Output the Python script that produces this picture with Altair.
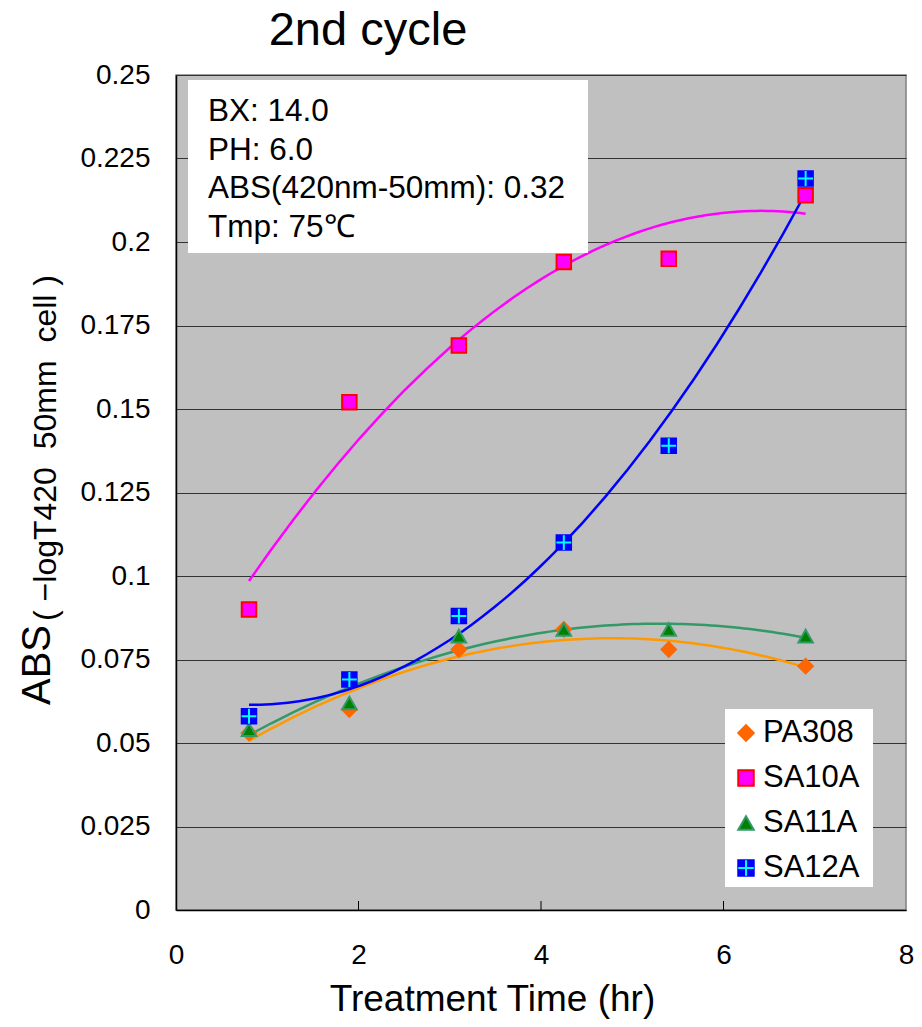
import altair as alt
import pandas as pd

# ---------------- data ----------------
SERIES = ["PA308", "SA10A", "SA11A", "SA12A"]
TIME = [0.8, 1.9, 3.1, 4.25, 5.4, 6.9]
PA308 = [0.053, 0.060, 0.078, 0.084, 0.078, 0.073]
SA10A = [0.090, 0.152, 0.169, 0.194, 0.195, 0.214]
SA11A = [0.054, 0.062, 0.082, 0.084, 0.084, 0.082]
SA12A = [0.058, 0.069, 0.088, 0.110, 0.139, 0.219]
X_TICKS = [0, 2, 4, 6, 8]
Y_TICKS = [0, 0.025, 0.05, 0.075, 0.1, 0.125, 0.15, 0.175, 0.2, 0.225, 0.25]
INFO_LINES = ["BX: 14.0", "PH: 6.0", "ABS(420nm-50mm): 0.32", "Tmp: 75℃"]
TITLE = "2nd cycle"
X_TITLE = "Treatment Time (hr)"
Y_TITLE_MAIN = "ABS"
Y_TITLE_SUB = "(\u00a0−logT420\u00a0\u00a050mm\u00a0\u00a0cell\u00a0)"

# ---------------- styles ----------------
FONT = "Liberation Sans"
FILL_COLORS = ["#ff6600", "#ff00ff", "#008000", "#0000ff"]
STROKE_COLORS = ["#ff6600", "#ff0000", "#339966", "#0000ff"]
LINE_COLORS = ["#ff9900", "#ff00ff", "#339966", "#0000ff"]
SHAPES = ["diamond", "square", "triangle-up", "square"]
CROSS = "M0,-1L0,1M-1,0L1,0"

W, H = 730, 835

values = {"PA308": PA308, "SA10A": SA10A, "SA11A": SA11A, "SA12A": SA12A}
rows = []
for s in SERIES:
    for t, v in zip(TIME, values[s]):
        rows.append({"series": s, "time": t, "abs": v})
df = pd.DataFrame(rows)

xscale = alt.Scale(domain=[0, 8], nice=False, zero=False)
yscale = alt.Scale(domain=[0, 0.25], nice=False)

xaxis = alt.Axis(values=X_TICKS, grid=False, tickSize=0, labelPadding=31,
                 labelFontSize=28, labelFont=FONT, labelColor="black",
                 labelFlush=False, domainColor="black", domainWidth=1.5,
                 title=X_TITLE, titleFont=FONT, titleFontSize=37,
                 titleFontWeight="normal", titleColor="black",
                 titleX=316, titleY=100, titleAlign="center",
                 titleBaseline="alphabetic")
yaxis = alt.Axis(values=Y_TICKS, labelExpr="format(datum.value, '.3~f')",
                 grid=True, gridColor="#333333",
                 gridWidth=1, tickSize=0, labelPadding=26, labelFontSize=28,
                 labelFont=FONT, labelColor="black", labelFlush=False,
                 domainColor="black", domainWidth=1.5, title=None)

X = alt.X("time:Q", scale=xscale, axis=xaxis)
Y = alt.Y("abs:Q", scale=yscale, axis=yaxis)

fill_enc = alt.Fill("series:N", scale=alt.Scale(domain=SERIES, range=FILL_COLORS), legend=None)
stroke_enc = alt.Stroke("series:N", scale=alt.Scale(domain=SERIES, range=STROKE_COLORS), legend=None)
shape_enc = alt.Shape("series:N", scale=alt.Scale(domain=SERIES, range=SHAPES), legend=None)

base = alt.Chart(df)

lines = base.transform_regression(
    "time", "abs", method="poly", order=2, groupby=["series"]
).mark_line(strokeWidth=2.5).encode(
    x=X, y=Y,
    color=alt.Color("series:N", scale=alt.Scale(domain=SERIES, range=LINE_COLORS), legend=None),
)

points = base.mark_point(filled=True, opacity=1, fillOpacity=1, size=210, strokeWidth=2).encode(
    x=X, y=Y, fill=fill_enc, stroke=stroke_enc, shape=shape_enc
)

crosses = base.transform_filter(alt.datum.series == "SA12A").mark_point(
    shape=CROSS, size=220, stroke="#00ffff", strokeWidth=2, filled=False, opacity=1
).encode(x=X, y=Y)

ticks = alt.Chart(pd.DataFrame({"time": X_TICKS[1:-1]})).mark_rule(color="black", strokeWidth=1).encode(
    x=X, y=alt.value(H), y2=alt.value(H - 9)
)

# info box
info_box = alt.Chart(pd.DataFrame({"a": [0]})).mark_rect(fill="white", stroke=None).encode(
    x=alt.value(12), x2=alt.value(412), y=alt.value(5), y2=alt.value(178)
)
info_text = alt.Chart(pd.DataFrame({"t": ["\n".join(INFO_LINES)]})).mark_text(
    align="left", baseline="alphabetic", lineBreak="\n", lineHeight=38.5,
    font=FONT, fontSize=31.5, color="black"
).encode(x=alt.value(32), y=alt.value(46), text="t:N")

# legend
leg_df = pd.DataFrame({"series": SERIES, "idx": list(range(len(SERIES)))})
leg_box = alt.Chart(pd.DataFrame({"a": [0]})).mark_rect(fill="white", stroke=None).encode(
    x=alt.value(549), x2=alt.value(697), y=alt.value(634), y2=alt.value(812)
)
leg_base = alt.Chart(leg_df).transform_calculate(ly="658 + datum.idx * 45")
leg_pts = leg_base.mark_point(filled=True, opacity=1, fillOpacity=1, size=240, strokeWidth=2).encode(
    x=alt.value(570), y=alt.Y("ly:Q", scale=None), fill=fill_enc, stroke=stroke_enc, shape=shape_enc
)
leg_cross = leg_base.transform_filter(alt.datum.series == "SA12A").mark_point(
    shape=CROSS, size=240, stroke="#00ffff", strokeWidth=2, filled=False, opacity=1
).encode(x=alt.value(570), y=alt.Y("ly:Q", scale=None))
leg_text = leg_base.mark_text(align="left", baseline="middle", font=FONT, fontSize=31, color="black").encode(
    x=alt.value(587), y=alt.Y("ly:Q", scale=None), text="series:N"
)

# titles
title = alt.Chart(pd.DataFrame({"t": [TITLE]})).mark_text(
    align="center", baseline="alphabetic", font=FONT, fontSize=47, color="black"
).encode(x=alt.value(192), y=alt.value(-30), text="t:N")
ytitle_main = alt.Chart(pd.DataFrame({"t": [Y_TITLE_MAIN]})).mark_text(
    align="center", baseline="alphabetic", font=FONT, fontSize=40, angle=270, color="black"
).encode(x=alt.value(-126), y=alt.value(590), text="t:N")
ytitle_sub = alt.Chart(pd.DataFrame({"t": [Y_TITLE_SUB]})).mark_text(
    align="center", baseline="alphabetic", font=FONT, fontSize=32, angle=270, color="black"
).encode(x=alt.value(-120), y=alt.value(373), text="t:N")

chart = alt.layer(
    ticks, lines, points, crosses, info_box, info_text,
    leg_box, leg_pts, leg_cross, leg_text, title, ytitle_main, ytitle_sub
).properties(
    width=W, height=H,
    autosize=alt.AutoSizeParams(type="none"),
    padding={"left": 168, "top": 67, "right": 8, "bottom": 109},
    background="white",
).configure_view(
    fill="#c0c0c0", stroke="#808080", strokeWidth=1.5
)

chart.save("out.html", embed_options={"renderer": "svg", "actions": False})
